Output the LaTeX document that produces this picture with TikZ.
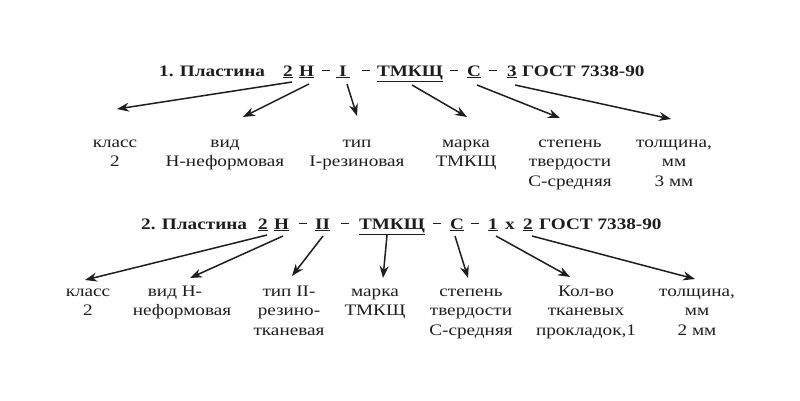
\documentclass[tikz,border=0pt]{standalone}
\usepackage{fontspec}
\setmainfont{Liberation Serif}[FakeStretch=1.2]
\usetikzlibrary{arrows.meta}
\definecolor{ink}{HTML}{1E1E1E}
\newcommand\mylab[1]{\begin{tabular}[t]{@{}c@{}}#1\end{tabular}}
\newcommand\mydash{\rule[5pt]{8pt}{1.3pt}}
\begin{document}
\begin{tikzpicture}[x=1pt,y=-1pt,
  tt/.style={font=\fontsize{16}{19}\selectfont\bfseries, anchor=base west, inner sep=0pt, text=ink},
  dsh/.style={font=\fontsize{16}{19}\selectfont, anchor=base, inner sep=0pt, text=ink},
  lab/.style={font=\fontsize{16}{19.5}\selectfont, anchor=base, inner sep=0pt, text=ink},
  arr/.style={-{Stealth[length=12pt,width=9pt]}, line width=1.5pt, draw=ink}]
\fill[white] (0,0) rectangle (800,400);
\useasboundingbox (0,0) rectangle (800,400);
% ---------- line 1 ----------
\node[tt] (a0) at (159,76) {1. Пластина};
\node[tt] (a1) at (283,76) {\underline{2}};
\node[tt] (a2) at (299,76) {\underline{Н}};
\node[dsh] (m1) at (326,76) {\mydash};
\node[tt] (a3) at (336,76) {\underline{\kern3pt I\kern3pt}};
\node[dsh] (m2) at (366,76) {\mydash};
\node[tt] (a4) at (377,76) {\underline{ТМКЩ}};
\node[dsh] (m3) at (454,76) {\mydash};
\node[tt] (a5) at (467,76) {\underline{С}};
\node[dsh] (m4) at (493,76) {\mydash};
\node[tt] (a6) at (507,76) {\underline{3}};
\node[tt] (a7) at (522,76) {ГОСТ 7338-90};
% labels 1
\node[lab] (b1) at (115,147) {\mylab{класс\\2}};
\node[lab] (b2) at (225,147) {\mylab{вид\\Н-неформовая}};
\node[lab] (b3) at (357,147) {\mylab{тип\\I-резиновая}};
\node[lab] (b4) at (466,147) {\mylab{марка\\ТМКЩ}};
\node[lab] (b5) at (570,147) {\mylab{степень\\твердости\\С-средняя}};
\node[lab] (b6) at (674,147) {\mylab{толщина,\\мм\\3 мм}};
% arrow ends 1
\coordinate (s1) at (292,82);  \coordinate (e1) at (117,109);
\coordinate (s2) at (309,84);  \coordinate (e2) at (243,117);
\coordinate (s3) at (347,84);  \coordinate (e3) at (357,116);
\coordinate (s4) at (412,85);  \coordinate (e4) at (467,117);
\coordinate (s5) at (477,85);  \coordinate (e5) at (560,118);
\coordinate (s6) at (515,85);  \coordinate (e6) at (671,119);
\foreach \i in {1,...,6} \draw[arr] (s\i) -- (e\i);
% ---------- line 2 ----------
\node[tt] (c0) at (141,229) {2. Пластина};
\node[tt] (c1) at (258,229) {\underline{2}};
\node[tt] (c2) at (274,229) {\underline{Н}};
\node[dsh] (n1) at (303,229) {\mydash};
\node[tt] (c3) at (315,229) {\underline{II}};
\node[dsh] (n2) at (345,229) {\mydash};
\node[tt] (c4) at (359,229) {\underline{ТМКЩ}};
\node[dsh] (n3) at (437,229) {\mydash};
\node[tt] (c5) at (450,229) {\underline{С}};
\node[dsh] (n4) at (475,229) {\mydash};
\node[tt] (c6) at (488,229) {\underline{1}};
\node[tt] (n5) at (505,229) {x};
\node[tt] (c7) at (523,229) {\underline{2}};
\node[tt] (c8) at (539,229) {ГОСТ 7338-90};
% labels 2
\node[lab] (d1) at (88,296) {\mylab{класс\\2}};
\node[lab] (d2) at (182,296) {\mylab{вид Н-\kern14pt\\неформовая}};
\node[lab] (d3) at (289,296) {\mylab{тип II-\\резино-\\тканевая}};
\node[lab] (d4) at (375,296) {\mylab{марка\\ТМКЩ}};
\node[lab] (d5) at (471,296) {\mylab{степень\\твердости\\С-средняя}};
\node[lab] (d6) at (586,296) {\mylab{Кол-во\\тканевых\\прокладок,1}};
\node[lab] (d7) at (697,296) {\mylab{толщина,\\мм\\2 мм}};
% arrow ends 2
\coordinate (t1) at (267,235); \coordinate (f1) at (85,280);
\coordinate (t2) at (283,236); \coordinate (f2) at (190,278);
\coordinate (t3) at (323,236); \coordinate (f3) at (292,276);
\coordinate (t4) at (387,235); \coordinate (f4) at (383,278);
\coordinate (t5) at (455,236); \coordinate (f5) at (468,278);
\coordinate (t6) at (496,236); \coordinate (f6) at (570,277);
\coordinate (t7) at (532,236); \coordinate (f7) at (695,279);
\foreach \i in {1,...,7} \draw[arr] (t\i) -- (f\i);
\end{tikzpicture}
\end{document}
